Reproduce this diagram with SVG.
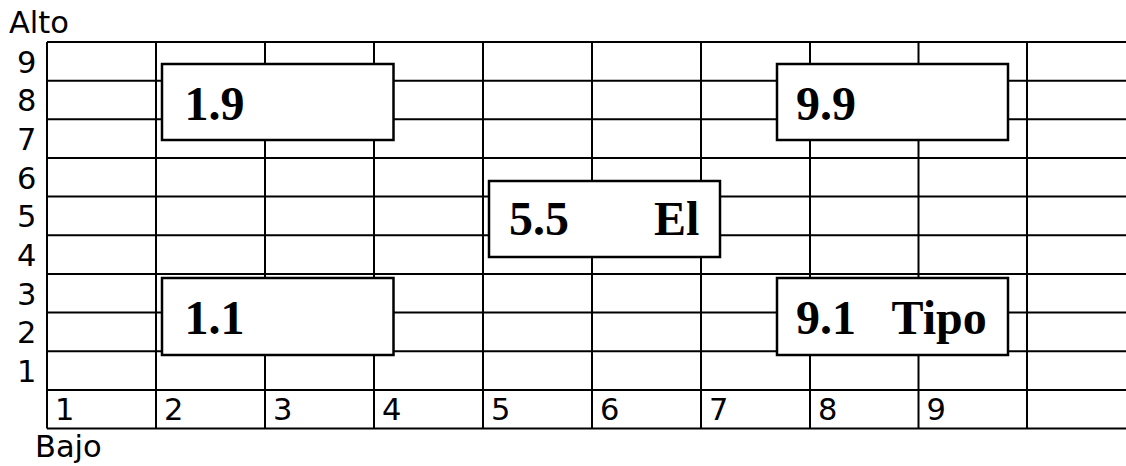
<svg xmlns="http://www.w3.org/2000/svg" width="1126" height="466" viewBox="0 0 1126 466">
<style>
.grid line{stroke:#000;stroke-width:2}
.axis{font-family:"DejaVu Sans",sans-serif;font-size:30.5px;fill:#000}
.box rect{fill:#fff;stroke:#000;stroke-width:2.5}
.box text{font-family:"Liberation Serif","Times New Roman",serif;font-weight:bold;font-size:48px;fill:#000}
</style>
<rect width="1126" height="466" fill="#fff"/>
<g id="grid" class="grid">
<line x1="47" y1="42" x2="1126" y2="42"/>
<line x1="47" y1="80.7" x2="1126" y2="80.7"/>
<line x1="47" y1="119.3" x2="1126" y2="119.3"/>
<line x1="47" y1="158" x2="1126" y2="158"/>
<line x1="47" y1="196.6" x2="1126" y2="196.6"/>
<line x1="47" y1="235.3" x2="1126" y2="235.3"/>
<line x1="47" y1="273.9" x2="1126" y2="273.9"/>
<line x1="47" y1="312.6" x2="1126" y2="312.6"/>
<line x1="47" y1="351.2" x2="1126" y2="351.2"/>
<line x1="47" y1="389.9" x2="1126" y2="389.9"/>
<line x1="47" y1="428.5" x2="1126" y2="428.5"/>
<line x1="47" y1="42" x2="47" y2="428.5"/>
<line x1="156" y1="42" x2="156" y2="428.5"/>
<line x1="265" y1="42" x2="265" y2="428.5"/>
<line x1="374" y1="42" x2="374" y2="428.5"/>
<line x1="483" y1="42" x2="483" y2="428.5"/>
<line x1="592" y1="42" x2="592" y2="428.5"/>
<line x1="701" y1="42" x2="701" y2="428.5"/>
<line x1="810" y1="42" x2="810" y2="428.5"/>
<line x1="918.5" y1="42" x2="918.5" y2="428.5"/>
<line x1="1027" y1="42" x2="1027" y2="428.5"/>
</g>
<g id="axes" class="axis">
<text x="9" y="33">Alto</text>
<text x="35" y="457">Bajo</text>
<text x="17" y="72.5">9</text>
<text x="17" y="111">8</text>
<text x="17" y="150">7</text>
<text x="17" y="188.5">6</text>
<text x="17" y="227">5</text>
<text x="17" y="266">4</text>
<text x="17" y="304.5">3</text>
<text x="17" y="343">2</text>
<text x="17" y="382">1</text>
<text x="55" y="420">1</text>
<text x="164" y="420">2</text>
<text x="273" y="420">3</text>
<text x="382" y="420">4</text>
<text x="491" y="420">5</text>
<text x="600" y="420">6</text>
<text x="709" y="420">7</text>
<text x="818" y="420">8</text>
<text x="926.5" y="420">9</text>
</g>
<g id="node-1-9" class="box">
<rect x="162" y="64" width="231.5" height="76"/>
<text x="184.5" y="120">1.9</text>
</g>
<g id="node-9-9" class="box">
<rect x="777" y="64" width="231" height="76"/>
<text x="796" y="120">9.9</text>
</g>
<g id="node-5-5" class="box">
<rect x="489" y="181" width="231" height="76"/>
<text x="509" y="235">5.5</text>
<text x="654" y="235">El</text>
</g>
<g id="node-1-1" class="box">
<rect x="162" y="278" width="231.5" height="77"/>
<text x="184.5" y="333.5">1.1</text>
</g>
<g id="node-9-1" class="box">
<rect x="777" y="278" width="231" height="77"/>
<text x="796" y="333.5">9.1</text>
<text x="891.5" y="333.5">Tipo</text>
</g>
</svg>
